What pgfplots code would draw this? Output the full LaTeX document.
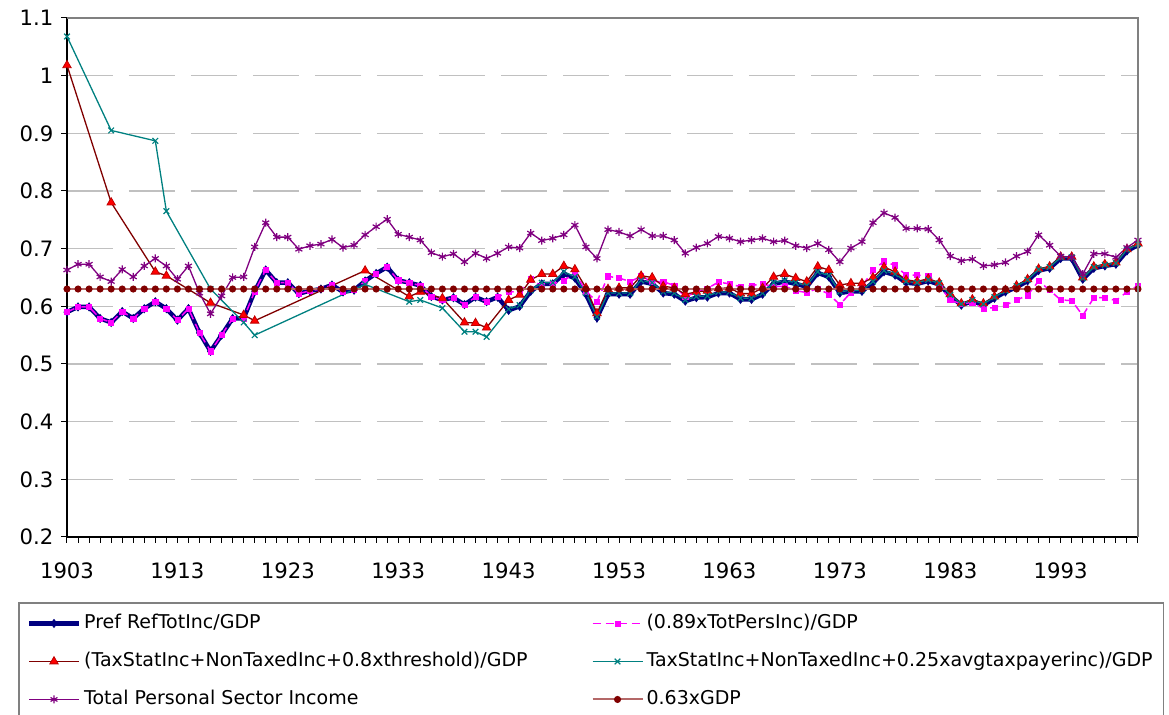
\documentclass[border=0pt]{standalone}
\usepackage{fontspec}
\setmainfont{DejaVu Sans}
\usepackage{pgfplots}
\usepackage{pgfplotstable}
\pgfplotsset{compat=1.18}
\definecolor{navyc}{RGB}{0,0,128}
\definecolor{magc}{RGB}{255,0,255}
\definecolor{dred}{RGB}{128,0,0}
\definecolor{tealc}{RGB}{0,128,128}
\definecolor{purp}{RGB}{128,0,128}
\definecolor{rosy}{RGB}{180,104,104}
\definecolor{gridc}{RGB}{192,192,192}
\definecolor{borderc}{RGB}{128,128,128}

\pgfplotstableread{
year pref mag purp gdp
1903 0.590 0.590 0.663 0.63
1904 0.599 0.599 0.673 0.63
1905 0.599 0.599 0.673 0.63
1906 0.579 0.579 0.651 0.63
1907 0.572 0.572 0.643 0.63
1908 0.591 0.591 0.664 0.63
1909 0.579 0.579 0.651 0.63
1910 0.596 0.596 0.670 0.63
1911 0.608 0.608 0.683 0.63
1912 0.596 0.596 0.670 0.63
1913 0.576 0.576 0.647 0.63
1914 0.596 0.596 0.670 0.63
1915 0.554 0.554 0.623 0.63
1916 0.522 0.522 0.587 0.63
1917 0.550 0.550 0.618 0.63
1918 0.579 0.579 0.650 0.63
1919 0.579 0.579 0.651 0.63
1920 0.626 0.626 0.703 0.63
1921 0.663 0.663 0.745 0.63
1922 0.641 0.641 0.720 0.63
1923 0.641 0.641 0.720 0.63
1924 0.622 0.622 0.699 0.63
1925 0.627 0.627 0.705 0.63
1926 0.630 0.630 0.708 0.63
1927 0.637 0.637 0.716 0.63
1928 0.625 0.625 0.702 0.63
1929 0.628 0.628 0.706 0.63
1930 0.644 0.644 0.724 0.63
1931 0.657 0.657 0.738 0.63
1932 0.668 0.668 0.751 0.63
1933 0.645 0.645 0.725 0.63
1934 0.641 0.641 0.720 0.63
1935 0.636 0.636 0.715 0.63
1936 0.617 0.617 0.693 0.63
1937 0.611 0.611 0.686 0.63
1938 0.615 0.615 0.691 0.63
1939 0.603 0.603 0.677 0.63
1940 0.616 0.616 0.692 0.63
1941 0.608 0.608 0.683 0.63
1942 0.616 0.616 0.692 0.63
1943 0.593 0.626 0.703 0.63
1944 0.600 0.624 0.701 0.63
1945 0.626 0.647 0.727 0.63
1946 0.639 0.635 0.714 0.63
1947 0.639 0.639 0.718 0.63
1948 0.656 0.644 0.724 0.63
1949 0.649 0.659 0.741 0.63
1950 0.621 0.626 0.703 0.63
1951 0.580 0.608 0.683 0.63
1952 0.621 0.652 0.733 0.63
1953 0.621 0.649 0.729 0.63
1954 0.621 0.643 0.722 0.63
1955 0.643 0.652 0.733 0.63
1956 0.639 0.643 0.722 0.63
1957 0.623 0.643 0.722 0.63
1958 0.621 0.636 0.715 0.63
1959 0.609 0.616 0.692 0.63
1960 0.615 0.625 0.702 0.63
1961 0.616 0.631 0.709 0.63
1962 0.623 0.642 0.721 0.63
1963 0.623 0.639 0.718 0.63
1964 0.612 0.634 0.712 0.63
1965 0.612 0.636 0.715 0.63
1966 0.621 0.639 0.718 0.63
1967 0.639 0.634 0.712 0.63
1968 0.643 0.635 0.714 0.63
1969 0.639 0.627 0.705 0.63
1970 0.634 0.624 0.701 0.63
1971 0.658 0.631 0.709 0.63
1972 0.651 0.621 0.698 0.63
1973 0.623 0.603 0.677 0.63
1974 0.626 0.624 0.701 0.63
1975 0.626 0.634 0.712 0.63
1976 0.641 0.663 0.745 0.63
1977 0.660 0.678 0.762 0.63
1978 0.654 0.671 0.754 0.63
1979 0.641 0.654 0.735 0.63
1980 0.639 0.654 0.735 0.63
1981 0.644 0.653 0.734 0.63
1982 0.638 0.636 0.715 0.63
1983 0.618 0.611 0.687 0.63
1984 0.602 0.604 0.679 0.63
1985 0.609 0.607 0.682 0.63
1986 0.602 0.596 0.670 0.63
1987 0.614 0.598 0.672 0.63
1988 0.625 0.602 0.676 0.63
1989 0.633 0.611 0.687 0.63
1990 0.644 0.619 0.695 0.63
1991 0.662 0.644 0.724 0.63
1992 0.666 0.628 0.706 0.63
1993 0.683 0.611 0.687 0.63
1994 0.683 0.610 0.685 0.63
1995 0.647 0.584 0.656 0.63
1996 0.666 0.615 0.691 0.63
1997 0.670 0.615 0.691 0.63
1998 0.673 0.610 0.685 0.63
1999 0.696 0.625 0.702 0.63
2000 0.706 0.636 0.715 0.63
}\annual

\pgfplotstableread{
year red teal
1903 1.018 1.068
1907 0.780 0.905
1911 0.660 0.887
1912 0.653 0.765
1916 0.606 0.630
1919 0.585 0.572
1920 0.575 0.550
1930 0.662 0.638
1934 0.617 0.608
1935 0.625 0.611
1937 0.614 0.597
1939 0.572 0.556
1940 0.571 0.556
1941 0.563 0.547
1943 0.611 0.595
1944 0.620 0.602
1945 0.646 0.628
1946 0.656 0.641
1947 0.656 0.641
1948 0.670 0.660
1949 0.664 0.651
1950 0.632 0.623
1951 0.588 0.582
1952 0.630 0.623
1953 0.632 0.623
1954 0.632 0.623
1955 0.653 0.645
1956 0.650 0.641
1957 0.635 0.625
1958 0.632 0.623
1959 0.621 0.611
1960 0.625 0.617
1961 0.627 0.618
1962 0.631 0.625
1963 0.632 0.625
1964 0.622 0.614
1965 0.622 0.614
1966 0.632 0.623
1967 0.651 0.641
1968 0.656 0.645
1969 0.649 0.641
1970 0.643 0.636
1971 0.669 0.660
1972 0.663 0.653
1973 0.637 0.625
1974 0.640 0.628
1975 0.640 0.628
1976 0.650 0.643
1977 0.668 0.662
1978 0.660 0.656
1979 0.646 0.643
1980 0.643 0.641
1981 0.648 0.646
1982 0.641 0.640
1983 0.621 0.620
1984 0.605 0.604
1985 0.612 0.611
1986 0.605 0.604
1987 0.617 0.616
1988 0.628 0.627
1989 0.636 0.635
1990 0.647 0.646
1991 0.665 0.664
1992 0.669 0.668
1993 0.686 0.685
1994 0.686 0.685
1995 0.650 0.649
1996 0.669 0.668
1997 0.673 0.672
1998 0.676 0.675
1999 0.699 0.698
2000 0.709 0.708
}\sparse

\begin{document}
\begin{tikzpicture}
\path[use as bounding box] (-33.5pt,-89pt) rectangle (551pt,268.5pt);
\begin{axis}[
  at={(0pt,0pt)}, anchor=south west,
  scale only axis, width=535.5pt, height=259.5pt,
  xmin=1903, xmax=2000, ymin=0.2, ymax=1.1,
  axis lines*=left,
  axis line style={black, line width=0.75pt},
  xtick={1903,1913,1923,1933,1943,1953,1963,1973,1983,1993},
  minor xtick={1904,1905,...,2000},
  ytick={0.2,0.3,0.4,0.5,0.6,0.7,0.8,0.9,1.0,1.1},
  yticklabels={0.2,0.3,0.4,0.5,0.6,0.7,0.8,0.9,1,1.1},
  ymajorgrids,
  major grid style={gridc, line width=0.6pt, dash pattern=on 23pt off 8pt},
  tick align=outside,
  major tick length=2.8pt, minor tick length=2.8pt,
  tick style={black, line width=0.5pt},
  xticklabel style={/pgf/number format/1000 sep=, yshift=-6.5pt},
  yticklabel style={xshift=-0.5pt},
  /pgf/number format/assume math mode=true,
  tick label style={font=\fontsize{10.6}{12}\selectfont},
  clip=false,
  legend columns=2,
  legend cell align=left,
  legend style={at={(-0.04575,-0.1252)}, anchor=north west,
    draw=borderc, line width=0.8pt,
    font=\fontsize{9.5}{11}\selectfont,
    inner xsep=4pt, inner ysep=6pt,
    nodes={inner xsep=1.5pt, inner ysep=0pt, text height=6.9pt, text depth=1.8pt},
    /tikz/every even column/.append style={column sep=30.5pt},
    /tikz/row sep=10.3pt},
  legend image code/.code={\draw[mark repeat=2,mark phase=2,#1] plot coordinates {(0pt,0pt) (12.5pt,0pt) (25pt,0pt)};},
  after end axis/.code={\draw[borderc, line width=0.8pt] (rel axis cs:0,1) -- (rel axis cs:1,1) -- (rel axis cs:1,0);},
]
\addplot[navyc, line width=2.2pt, mark=diamond*, mark size=2pt, mark options={solid, line width=0.4pt}]
  table[x=year, y=pref]{\annual};
\addlegendentry{Pref RefTotInc/GDP}
\addplot[magc, line width=0.75pt, dash pattern=on 4pt off 2.5pt, mark=square*, mark size=1.3pt, mark options={solid, line width=0.3pt}]
  table[x=year, y=mag]{\annual};
\addlegendentry{(0.89xTotPersInc)/GDP}
\addplot[dred, line width=0.65pt, mark=triangle*, mark size=2.4pt, mark options={solid, fill=red, draw=red!75!black, line width=0.4pt}]
  table[x=year, y=red]{\sparse};
\addlegendentry{(TaxStatInc+NonTaxedInc+0.8xthreshold)/GDP}
\addplot[tealc, line width=0.65pt, mark=x, mark size=2pt, mark options={solid, line width=0.6pt}]
  table[x=year, y=teal]{\sparse};
\addlegendentry{TaxStatInc+NonTaxedInc+0.25xavgtaxpayerinc)/GDP}
\addplot[purp, line width=0.65pt, mark=asterisk, mark size=2pt, mark options={solid, line width=0.6pt}]
  table[x=year, y=purp]{\annual};
\addlegendentry{Total Personal Sector Income}
\addplot[rosy, line width=1pt, mark=*, mark size=1.25pt, mark options={solid, fill=dred, draw=dred}]
  table[x=year, y=gdp]{\annual};
\addlegendentry{0.63xGDP}
\end{axis}
\end{tikzpicture}
\end{document}
